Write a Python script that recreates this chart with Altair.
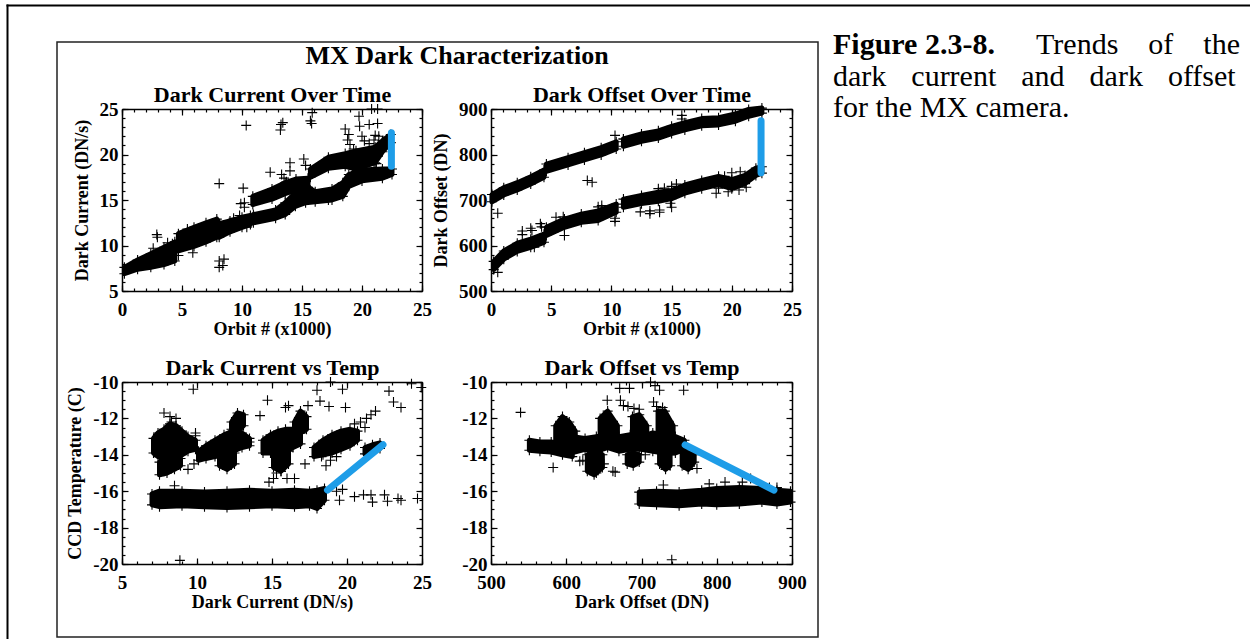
import altair as alt
import pandas as pd

FONT = "Liberation Serif"
BLUE = "#1e9de8"
W, H = 670, 455
PLUS = "M-1,0L1,0M0,-1L0,1"

# ---------------- Panel 1 : Dark Current Over Time ----------------
P1_X_TICKS = [0, 5, 10, 15, 20, 25]
P1_X_MINOR = list(range(0, 26))
P1_Y_TICKS = [5, 10, 15, 20, 25]
P1_Y_MINOR = list(range(5, 26))
P1_ENV = [  # cluster, orbit, low, high (envelope of the dense point bands)
    ("a", 0.2, 6.9, 7.6), ("a", 1.3, 7.4, 8.4), ("a", 2.4, 7.6, 9.1), ("a", 3.5, 7.9, 9.8), ("a", 4.4, 8.3, 10.4),
    ("b", 4.7, 9.4, 11.3), ("b", 6.0, 9.9, 12.0), ("b", 7.0, 10.4, 12.5), ("b", 7.9, 10.9, 12.9),
    ("b", 8.1, 10.9, 12.4), ("b", 9.0, 11.5, 12.7), ("b", 10.0, 12.0, 13.1), ("b", 10.7, 12.3, 13.3),
    ("u1", 10.9, 14.5, 15.4), ("u1", 12.5, 15.1, 16.2), ("u1", 13.6, 15.7, 16.9), ("u1", 14.5, 16.1, 17.3), ("u1", 15.5, 16.4, 17.4),
    ("l", 10.95, 12.5, 13.4), ("l", 12.8, 13.0, 13.9), ("l", 13.6, 13.4, 14.7), ("l", 14.45, 14.3, 15.8),
    ("l", 15.3, 14.7, 16.6), ("l", 16.1, 14.8, 15.9), ("l", 17.5, 15.0, 16.2), ("l", 18.4, 15.4, 16.9),
    ("l", 18.9, 16.5, 17.8), ("l", 20.0, 17.1, 18.3), ("l", 21.7, 17.4, 18.4), ("l", 22.5, 17.8, 18.4),
    ("u2", 15.7, 17.5, 18.4), ("u2", 17.2, 18.5, 19.7), ("u2", 18.6, 18.7, 20.1), ("u2", 19.5, 18.4, 20.4),
    ("u2", 21.1, 19.1, 20.8), ("u2", 21.7, 20.3, 21.5), ("u2", 22.4, 21.3, 22.2),
]
P1_PTS = [
    (10.35, 23.2), (13.25, 23.3), (13.2, 22.7), (13.4, 23.5), (15.85, 24.6), (15.8, 23.4), (15.7, 23.7),
    (19.75, 24.2), (19.8, 23.1), (20.6, 23.3), (21.3, 23.4), (20.8, 25.0), (21.3, 25.0), (18.6, 22.8),
    (18.9, 22.2), (18.8, 21.6), (19.0, 21.1), (19.3, 20.6), (20.0, 22.0), (20.2, 21.5), (20.6, 21.2),
    (21.0, 21.6), (21.1, 22.1), (21.4, 22.0), (20.5, 19.6), (21.0, 19.0), (19.2, 18.6), (21.2, 19.0),
    (8.1, 16.8), (10.1, 16.3), (9.9, 14.6), (10.2, 14.7), (10.2, 14.2), (12.35, 18.05), (13.3, 17.8),
    (14.0, 19.1), (14.0, 18.2), (15.15, 19.5), (15.3, 18.8), (13.5, 17.4), (13.7, 17.0), (14.5, 17.0),
    (8.1, 8.3), (8.5, 8.5), (8.1, 7.6), (8.4, 7.8), (2.9, 11.2), (2.95, 10.9), (5.45, 11.8), (4.2, 10.2),
    (3.8, 10.3), (2.6, 9.7), (4.7, 8.9), (5.9, 9.2), (9.3, 13.0), (9.8, 13.3), (10.4, 12.0), (16.7, 15.3),
    (17.2, 15.0),
]
P1_BLUE = [(22.45, 18.7), (22.45, 22.4)]

# ---------------- Panel 2 : Dark Offset Over Time ----------------
P2_X_TICKS = [0, 5, 10, 15, 20, 25]
P2_X_MINOR = list(range(0, 26))
P2_Y_TICKS = [500, 600, 700, 800, 900]
P2_Y_MINOR = list(range(500, 901, 20))
P2_ENV = [
    ("u1", 0.08, 696, 712), ("u1", 1.06, 711, 727), ("u1", 2.18, 722, 738), ("u1", 3.3, 735, 751), ("u1", 4.4, 750, 766),
    ("u2", 4.6, 763, 779), ("u2", 6.4, 777, 793), ("u2", 7.76, 788, 804), ("u2", 9.15, 799, 815), ("u2", 10.4, 812, 828),
    ("u3", 11.0, 818, 834), ("u3", 12.5, 829, 845), ("u3", 13.9, 836, 852), ("u3", 15.0, 846, 862), ("u3", 16.1, 854, 870),
    ("u3", 17.5, 863, 879), ("u3", 18.9, 865, 881), ("u3", 20.3, 873, 889), ("u3", 21.4, 884, 899), ("u3", 22.5, 891, 902),
    ("l1", 0.22, 547, 565), ("l1", 1.06, 570, 588), ("l1", 2.18, 587, 605), ("l1", 3.3, 596, 614), ("l1", 4.4, 607, 625),
    ("l2", 4.6, 622, 640), ("l2", 6.1, 640, 658), ("l2", 7.5, 651, 669), ("l2", 8.9, 655, 676), ("l2", 10.4, 673, 691),
    ("l3", 11.0, 684, 702), ("l3", 12.5, 692, 710), ("l3", 13.9, 697, 717), ("l3", 15.0, 703, 721), ("l3", 16.1, 715, 733),
    ("l3", 17.5, 725, 743), ("l3", 18.9, 734, 752), ("l3", 20.0, 725, 745), ("l3", 21.1, 736, 754), ("l3", 22.0, 754, 770),
    ("l3", 22.5, 759, 773),
]
P2_PTS = [
    (10.3, 842), (15.85, 886), (15.85, 878), (8.0, 743), (8.4, 739), (0.56, 671), (0.56, 541), (2.6, 632),
    (2.6, 624), (3.3, 638), (3.4, 633), (4.1, 648), (4.2, 641), (3.6, 596), (4.0, 612), (5.4, 662), (6.0, 663),
    (5.6, 640), (6.1, 622), (8.9, 685), (9.2, 688), (9.2, 679), (10.3, 660), (10.3, 653), (12.4, 674), (13.2, 676),
    (13.2, 670), (14.0, 678), (14.0, 673), (15.0, 684), (14.9, 693), (13.9, 725), (14.4, 726), (15.4, 735),
    (15.0, 730), (18.7, 715), (18.9, 726), (19.7, 718), (19.4, 752), (20.0, 760), (20.7, 762), (20.6, 722),
    (21.2, 728), (21.1, 738), (11.0, 834),
]
P2_BLUE = [(22.43, 760), (22.43, 874)]

# ---------------- Panel 3 : Dark Current vs Temp ----------------
P3_X_TICKS = [5, 10, 15, 20, 25]
P3_X_MINOR = list(range(5, 26))
P3_Y_TICKS = [-20, -18, -16, -14, -12, -10]
P3_Y_MINOR = [v / 2 for v in range(-40, -19)]
P3_ENV = [
    ("low", 7.0, -16.75, -16.15), ("low", 7.5, -16.85, -16.0), ("low", 9.0, -16.8, -16.0), ("low", 10.5, -16.85, -16.05),
    ("low", 12.0, -16.9, -16.0), ("low", 13.5, -16.85, -15.95), ("low", 15.0, -16.8, -16.0), ("low", 16.5, -16.85, -15.95),
    ("low", 17.5, -16.8, -16.0), ("low", 18.0, -16.95, -15.95), ("low", 18.5, -16.5, -15.85),
    ("c1", 7.1, -13.9, -13.1), ("c1", 7.4, -14.1, -12.8), ("c1", 7.8, -14.2, -12.6), ("c1", 8.2, -14.2, -12.3),
    ("c1", 8.6, -14.1, -12.4), ("c1", 9.0, -14.0, -12.7), ("c1", 9.4, -13.8, -13.0), ("c1", 9.9, -13.7, -13.2),
    ("c1b", 7.5, -15.1, -14.4), ("c1b", 8.0, -15.0, -14.2), ("c1b", 8.5, -14.8, -14.1), ("c1b", 8.9, -14.6, -14.2),
    ("c2", 10.1, -14.3, -13.8), ("c2", 10.6, -14.2, -13.5), ("c2", 11.2, -14.1, -13.2), ("c2", 11.8, -14.0, -12.9),
    ("c2", 12.4, -13.8, -12.7), ("c2", 13.0, -13.6, -12.8), ("c2", 13.5, -13.5, -13.1),
    ("c2b", 11.5, -14.6, -13.9), ("c2b", 12.0, -14.8, -13.9), ("c2b", 12.5, -14.5, -13.9),
    ("c2c", 12.3, -12.6, -12.2), ("c2c", 12.7, -12.7, -11.7), ("c2c", 13.1, -12.4, -11.8),
    ("c3", 14.4, -13.9, -13.2), ("c3", 14.9, -13.9, -12.9), ("c3", 15.4, -14.0, -12.7), ("c3", 15.9, -13.8, -12.6),
    ("c3", 16.4, -13.6, -12.6), ("c3", 16.9, -13.4, -12.8),
    ("c3b", 15.1, -14.7, -13.8), ("c3b", 15.6, -14.9, -13.8), ("c3b", 16.1, -14.5, -13.8),
    ("c3c", 16.5, -12.7, -12.2), ("c3c", 16.9, -12.8, -11.6), ("c3c", 17.3, -12.6, -11.9),
    ("c4", 17.8, -14.1, -13.6), ("c4", 18.4, -14.0, -13.2), ("c4", 19.0, -13.9, -12.9), ("c4", 19.6, -13.7, -12.7),
    ("c4", 20.2, -13.5, -12.6), ("c4", 20.7, -13.2, -12.7),
    ("c5", 21.2, -13.95, -13.6), ("c5", 21.7, -13.85, -13.45), ("c5", 22.2, -13.65, -13.35),
]
P3_PTS = [
    (9.75, -10.4), (8.86, -19.8), (14.7, -11.0), (14.2, -11.85), (15.9, -11.4), (16.1, -11.3), (17.4, -11.3),
    (18.0, -10.45), (18.2, -11.05), (18.8, -11.35), (19.7, -10.4), (19.9, -11.4), (18.9, -10.0), (22.8, -10.5),
    (23.1, -11.1), (23.6, -11.4), (24.3, -10.1), (24.95, -10.3), (20.5, -16.3), (21.1, -16.2), (21.6, -16.2),
    (21.7, -16.6), (22.5, -16.2), (22.7, -16.55), (23.4, -16.4), (23.6, -16.5), (24.7, -16.4), (19.3, -16.0),
    (19.5, -16.5), (19.7, -15.9), (8.5, -15.7), (9.9, -12.8), (9.9, -12.95), (9.4, -14.8), (9.8, -14.5),
    (13.5, -13.3), (11.5, -16.6), (14.8, -15.5), (15.1, -15.3), (15.3, -15.0), (15.6, -14.9), (16.5, -15.3),
    (18.3, -14.1), (18.6, -14.6), (7.8, -11.7), (20.5, -12.3), (20.9, -12.2), (21.3, -12.0), (21.6, -11.8),
    (21.9, -11.6), (21.2, -12.5), (8.2, -11.9), (8.6, -12.0), (8.3, -12.2), (7.8, -14.9), (18.9, -14.3),
    (19.3, -14.1), (17.2, -14.5), (16.0, -15.3),
]
P3_BLUE = [(18.7, -15.94), (22.4, -13.45)]

# ---------------- Panel 4 : Dark Offset vs Temp ----------------
P4_X_TICKS = [500, 600, 700, 800, 900]
P4_X_MINOR = list(range(500, 901, 20))
P4_Y_TICKS = [-20, -18, -16, -14, -12, -10]
P4_Y_MINOR = [v / 2 for v in range(-40, -19)]
P4_ENV = [
    ("l1", 551, -13.75, -13.2), ("l1", 565, -13.8, -13.3), ("l1", 580, -13.85, -13.3), ("l1", 595, -14.0, -13.4),
    ("l1", 608, -14.1, -13.5),
    ("b0", 586, -13.4, -12.4), ("b0", 595, -13.6, -11.9), ("b0", 604, -13.5, -12.2), ("b0", 612, -13.4, -12.7),
    ("m", 606, -13.9, -13.0), ("m", 625, -13.7, -13.1), ("m", 640, -13.8, -13.0), ("m", 655, -13.6, -12.9),
    ("m", 670, -13.8, -13.0), ("m", 685, -13.7, -12.9), ("m", 700, -13.7, -13.0), ("m", 715, -13.8, -12.8),
    ("m", 730, -13.9, -12.9), ("m", 745, -13.9, -13.0), ("m", 757, -13.7, -13.2),
    ("ba", 645, -13.0, -12.0), ("ba", 655, -13.1, -11.6), ("ba", 668, -13.2, -12.4),
    ("bb", 688, -12.9, -11.9), ("bb", 697, -13.1, -11.8), ("bb", 707, -13.2, -12.4),
    ("bc", 722, -12.9, -11.6), ("bc", 731, -13.2, -11.6), ("bc", 742, -13.4, -12.4),
    ("h1", 628, -14.9, -14.0), ("h1", 637, -15.1, -13.9), ("h1", 648, -14.7, -14.0),
    ("h2", 681, -14.5, -14.0), ("h2", 689, -14.6, -13.9), ("h2", 697, -14.4, -14.0),
    ("h3", 724, -14.5, -13.9), ("h3", 732, -14.8, -13.9), ("h3", 738, -14.6, -14.0),
    ("h4", 754, -14.6, -13.8), ("h4", 762, -14.8, -13.9), ("h4", 770, -14.4, -14.0),
    ("low", 697, -16.7, -16.05), ("low", 720, -16.75, -16.0), ("low", 750, -16.8, -16.05), ("low", 780, -16.7, -15.95),
    ("low", 800, -16.75, -15.85), ("low", 830, -16.7, -15.8), ("low", 860, -16.6, -15.85), ("low", 880, -16.7, -15.95),
    ("low", 898, -16.6, -16.0),
]
P4_PTS = [
    (539.3, -11.67), (582.6, -14.7), (740.2, -19.77), (671, -10.35), (684, -10.35), (712, -10.0), (718, -10.2),
    (724, -10.45), (756, -10.45), (654.5, -11.0), (672, -11.0), (676, -11.3), (682, -11.35), (690, -11.45),
    (697, -11.5), (716, -11.1), (720, -11.35), (728, -11.4), (729, -15.66), (811, -15.5), (834, -15.5),
    (773.7, -14.75), (662, -14.9), (622, -14.3), (618, -14.35), (640, -15.0), (665, -14.95), (760, -14.2),
    (705, -14.0), (650, -14.5), (845, -15.3), (870, -15.8), (880, -15.8), (790, -15.6),
]
P4_BLUE = [(758, -13.45), (876, -15.94)]

# ---------------- Texts ----------------
MAIN_TITLE = ["MX Dark Characterization"]
CAP_BOLD = ["Figure 2.3-8."]
CAP_L1 = ["Trends", "of", "the"]
CAP_L2 = ["dark", "current", "and", "dark", "offset"]
CAP_L3 = ["for the MX camera."]


def ax(orient, offset, values, labels=False, ticks=False, tsize=0, domain=False, title=None,
       tfs=18, tpad=4, lpad=4):
    return alt.Axis(
        orient=orient, offset=offset, values=values, labels=labels, ticks=ticks, tickSize=tsize,
        domain=domain, grid=False, domainColor="black", domainWidth=1.5, tickColor="black", tickWidth=1.2,
        labelFont=FONT, labelFontSize=19, labelFontWeight="bold", labelColor="black", labelPadding=lpad,
        labelFlush=False, labelOverlap=False, labelBound=False, labelExpr="'' + datum.value",
        title=title, titleFont=FONT, titleFontSize=tfs, titleFontWeight="bold", titleColor="black",
        titlePadding=tpad,
    )


def panel(env, pts, blue, xdom, ydom, xr, yr, xt, xm, yt, ym, xtitle, ytitle, ptitle):
    x0, x1 = xr
    ytop, ybot = yr
    xs = alt.Scale(domain=xdom, range=[x0, x1], nice=False, zero=False)
    ys = alt.Scale(domain=ydom, range=[ybot, ytop], nice=False, zero=False)
    ob, ol, ot, orr = -(H - ybot), -x0, -ytop, -(W - x1)
    env_df = pd.DataFrame(env, columns=["c", "x", "lo", "hi"])
    edge_df = pd.concat([env_df[["x", "lo"]].rename(columns={"lo": "y"}),
                         env_df[["x", "hi"]].rename(columns={"hi": "y"})])
    pts_df = pd.DataFrame(pts, columns=["x", "y"])
    blue_df = pd.DataFrame(blue, columns=["x", "y"])
    corner = pd.DataFrame({"x": xdom, "y": ydom})

    area = alt.Chart(env_df).mark_area(color="black", stroke="black", strokeWidth=5, strokeJoin="round").encode(
        x=alt.X("x:Q", scale=xs, axis=ax("bottom", ob, xt, labels=True, domain=True, title=xtitle, tpad=1, lpad=9)),
        y=alt.Y("lo:Q", scale=ys, axis=ax("left", ol, yt, labels=True, domain=True, title=ytitle, tpad=8, lpad=4)),
        y2="hi:Q",
        detail="c:N",
    )
    plus_kw = dict(shape=PLUS, filled=False, size=100, strokeWidth=1.1, color="black", opacity=1)
    points = alt.Chart(pts_df).mark_point(**plus_kw).encode(
        x=alt.X("x:Q", scale=xs, axis=None), y=alt.Y("y:Q", scale=ys, axis=None))
    edges = alt.Chart(edge_df).mark_point(**plus_kw).encode(
        x=alt.X("x:Q", scale=xs, axis=None), y=alt.Y("y:Q", scale=ys, axis=None))
    bl = alt.Chart(blue_df).mark_line(color=BLUE, strokeWidth=7, strokeCap="round").encode(
        x=alt.X("x:Q", scale=xs, axis=None), y=alt.Y("y:Q", scale=ys, axis=None))

    def guide(xa, ya):
        return alt.Chart(corner).mark_point(opacity=0).encode(
            x=alt.X("x:Q", scale=xs, axis=xa), y=alt.Y("y:Q", scale=ys, axis=ya))

    frame_tr = guide(ax("top", ot, xt, domain=True, title=ptitle, tfs=22, tpad=3),
                     ax("right", orr, yt, domain=True))
    maj_bl = guide(ax("bottom", ob - 6, xt, ticks=True, tsize=6), ax("left", ol - 6, yt, ticks=True, tsize=6))
    maj_tr = guide(ax("top", ot - 6, xt, ticks=True, tsize=6), ax("right", orr - 6, yt, ticks=True, tsize=6))
    min_bl = guide(ax("bottom", ob - 3, xm, ticks=True, tsize=3), ax("left", ol - 3, ym, ticks=True, tsize=3))
    min_tr = guide(ax("top", ot - 3, xm, ticks=True, tsize=3), ax("right", orr - 3, ym, ticks=True, tsize=3))

    return alt.layer(area, edges, points, frame_tr, maj_bl, maj_tr, min_bl, min_tr, bl).resolve_axis(
        x="independent", y="independent")


p1 = panel(P1_ENV, P1_PTS, P1_BLUE, [0, 25], [5, 25], (0, 300), (0, 182), P1_X_TICKS, P1_X_MINOR,
           P1_Y_TICKS, P1_Y_MINOR, "Orbit # (x1000)", "Dark Current (DN/s)", "Dark Current Over Time")
p2 = panel(P2_ENV, P2_PTS, P2_BLUE, [0, 25], [500, 900], (369, 670), (0, 182), P2_X_TICKS, P2_X_MINOR,
           P2_Y_TICKS, P2_Y_MINOR, "Orbit # (x1000)", "Dark Offset (DN)", "Dark Offset Over Time")
p3 = panel(P3_ENV, P3_PTS, P3_BLUE, [5, 25], [-20, -10], (0, 300), (273, 455), P3_X_TICKS, P3_X_MINOR,
           P3_Y_TICKS, P3_Y_MINOR, "Dark Current (DN/s)", "CCD Temperature (C)", "Dark Current vs Temp")
p4 = panel(P4_ENV, P4_PTS, P4_BLUE, [500, 900], [-20, -10], (369, 670), (273, 455), P4_X_TICKS, P4_X_MINOR,
           P4_Y_TICKS, P4_Y_MINOR, "Dark Offset (DN)", None, "Dark Offset vs Temp")

one = pd.DataFrame({"k": [0]})
inner_box = alt.Chart(one).mark_rect(filled=False, stroke="#222222", strokeWidth=1.5).encode(
    x=alt.value(-65), x2=alt.value(696), y=alt.value(-67), y2=alt.value(528))
outer_top = alt.Chart(one).mark_rule(color="black", strokeWidth=2).encode(
    x=alt.value(-115.5), x2=alt.value(1130), y=alt.value(-103.5))
outer_left = alt.Chart(one).mark_rule(color="black", strokeWidth=2).encode(
    x=alt.value(-114.5), y=alt.value(-104.5), y2=alt.value(532))

title = alt.Chart(pd.DataFrame({"t": MAIN_TITLE})).mark_text(
    font=FONT, fontSize=26, fontWeight="bold", color="black", align="center", baseline="alphabetic").encode(
    x=alt.value(335), y=alt.value(-45), text="t:N")

CAP_FS = 30
cap_bold = alt.Chart(pd.DataFrame({"t": CAP_BOLD})).mark_text(
    font=FONT, fontSize=CAP_FS, fontWeight="bold", color="black", align="left", baseline="alphabetic").encode(
    x=alt.value(711), y=alt.value(-55), text="t:N")
cap_l1 = alt.Chart(pd.DataFrame({"t": ["\u2003".join(CAP_L1)]})).mark_text(
    font=FONT, fontSize=CAP_FS, color="black", align="right", baseline="alphabetic").encode(
    x=alt.value(1118), y=alt.value(-55), text="t:N")
cap_l2 = alt.Chart(pd.DataFrame({"t": ["\u2002\u2005\u200a".join(CAP_L2)]})).mark_text(
    font=FONT, fontSize=CAP_FS, color="black", align="left", baseline="alphabetic").encode(
    x=alt.value(711), y=alt.value(-23), text="t:N")
cap_l3 = alt.Chart(pd.DataFrame({"t": CAP_L3})).mark_text(
    font=FONT, fontSize=CAP_FS, color="black", align="left", baseline="alphabetic").encode(
    x=alt.value(711), y=alt.value(8), text="t:N")

chart = alt.layer(
    inner_box, outer_top, outer_left, p1, p2, p3, p4, title, cap_bold, cap_l1, cap_l2, cap_l3
).resolve_scale(x="independent", y="independent").properties(
    width=W, height=H,
    autosize=alt.AutoSizeParams(type="none"),
    padding={"left": 122, "top": 109, "right": 458, "bottom": 75},
).configure(background="white").configure_view(stroke="transparent", strokeWidth=0)

chart.save("out.html", embed_options={"renderer": "svg", "actions": False})
